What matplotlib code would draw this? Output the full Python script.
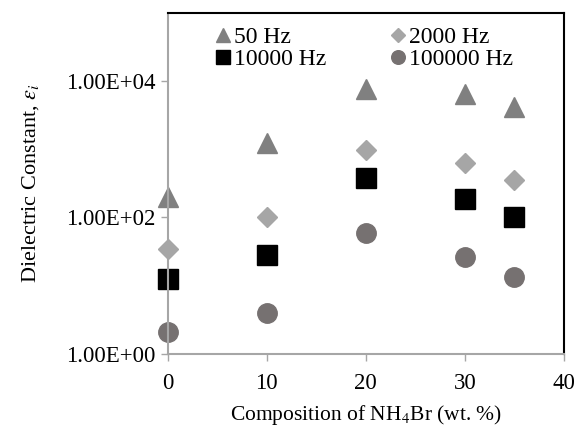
import matplotlib
matplotlib.use("Agg")
import matplotlib.pyplot as plt
import numpy as np

plt.rcParams['font.family'] = ['Liberation Serif', 'DejaVu Serif']
plt.rcParams['mathtext.fontset'] = 'stix'

# Composition of NH4Br (wt. %)
composition = [0, 10, 20, 30, 35]

# Dielectric constant at each frequency
eps_50hz = [197, 1216, 7600, 6400, 4180]
eps_2000hz = [35, 102, 970, 626, 349]
eps_10000hz = [12.5, 28.4, 374, 184, 101]
eps_100000hz = [2.08, 4.02, 59.7, 26, 13.5]

series_labels = ['50 Hz', '2000 Hz', '10000 Hz', '100000 Hz']
x_ticks = [0, 10, 20, 30, 40]
y_ticks = [1, 100, 10000]
y_tick_labels = ['1.00E+00', '1.00E+02', '1.00E+04']

fig = plt.figure(figsize=(5.84, 4.30), dpi=100)
ax = fig.add_axes([167.7 / 584, 1 - 354 / 430, (564 - 167.7) / 584, (354 - 12.7) / 430])

ms = 14
h1, = ax.plot(composition, eps_50hz, linestyle='none', marker='^', color='#808080', markersize=ms + 1, label=series_labels[0], clip_on=False)
h2, = ax.plot(composition, eps_2000hz, linestyle='none', marker='D', color='#a6a6a6', markersize=ms - 4, label=series_labels[1], clip_on=False)
h3, = ax.plot(composition, eps_10000hz, linestyle='none', marker='s', color='#000000', markersize=ms, label=series_labels[2], clip_on=False)
h4, = ax.plot(composition, eps_100000hz, linestyle='none', marker='o', color='#767171', markersize=ms, label=series_labels[3], clip_on=False)

ax.set_yscale('log')
ax.set_ylim(1, 1e5)
ax.set_xlim(0, 40)
ax.set_xticks(x_ticks)
ax.set_yticks(y_ticks)
ax.set_yticklabels(y_tick_labels)
ax.yaxis.set_minor_locator(matplotlib.ticker.NullLocator())

ax.tick_params(axis='both', direction='out', length=5, width=1, color='#a6a6a6', labelsize=16.5)
ax.tick_params(axis='x', pad=9)
ax.tick_params(axis='y', pad=4)
ax.spines['left'].set_color('#a6a6a6')
ax.spines['bottom'].set_color('#a6a6a6')
ax.spines['left'].set_linewidth(1.5)
ax.spines['bottom'].set_linewidth(1.5)
ax.spines['top'].set_color('black')
ax.spines['right'].set_color('black')
ax.spines['top'].set_linewidth(1.5)
ax.spines['right'].set_linewidth(1.5)

ax.set_xlabel('Composition of NH$_4$Br (wt. %)', fontsize=15.5, labelpad=6)
ax.set_ylabel(r'Dielectric Constant, $\varepsilon_i$', fontsize=16, labelpad=18)

# matplotlib fills legend columns first, so reorder for row-wise layout
leg = ax.legend([h1, h3, h2, h4], [series_labels[0], series_labels[2], series_labels[1], series_labels[3]],
                ncol=2, loc='upper left', bbox_to_anchor=(0.085, 1.0), frameon=False,
                fontsize=17, markerscale=0.7, handlelength=0.6, handletextpad=0.2,
                columnspacing=2.7, labelspacing=0.0, borderaxespad=0.2)

fig.savefig('out.png', dpi=100)
